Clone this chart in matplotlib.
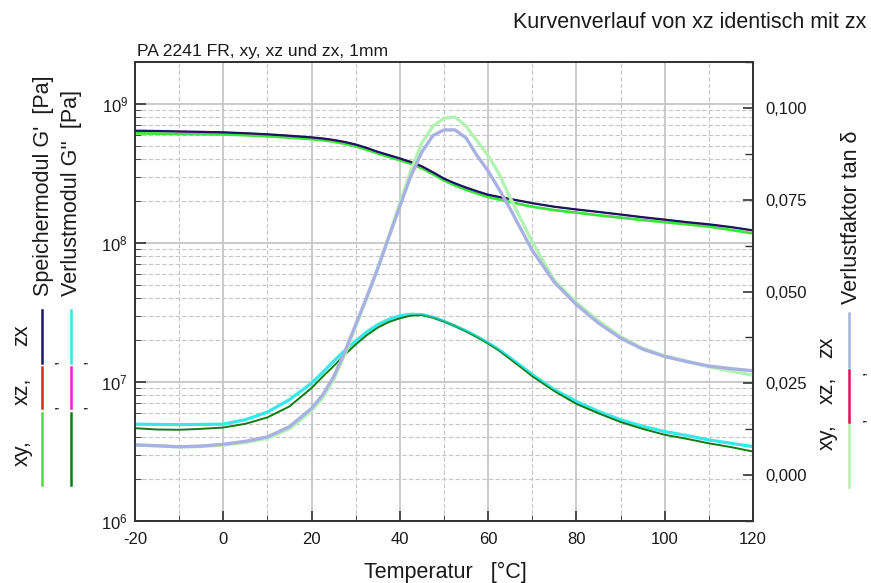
import matplotlib
matplotlib.use("Agg")
import matplotlib.pyplot as plt
from matplotlib.ticker import MultipleLocator, LogLocator, FixedLocator, FuncFormatter, NullFormatter
from matplotlib.lines import Line2D

plt.rcParams['font.family'] = ['Liberation Sans', 'DejaVu Sans']
plt.rcParams['mathtext.fontset'] = 'custom'
plt.rcParams['mathtext.rm'] = 'Liberation Sans'
plt.rcParams['mathtext.it'] = 'Liberation Sans:italic'
plt.rcParams['mathtext.bf'] = 'Liberation Sans:bold'
plt.rcParams['axes.unicode_minus'] = False

# ---------------- data ----------------
temperature = [-20, -15, -10, -5, 0, 5, 10, 15, 20,
               22.5, 25, 27.5, 30, 32.5, 35, 37.5, 40, 42.5, 45, 47.5, 50,
               52.5, 55, 57.5, 60, 62.5, 65, 67.5, 70,
               75, 80, 85, 90, 95, 100, 105, 110, 115, 120]

# Speichermodul G' [Pa]
g1_zx = [6.41e8, 6.38e8, 6.33e8, 6.29e8, 6.24e8, 6.15e8, 6.04e8, 5.90e8, 5.74e8,
         5.64e8, 5.50e8, 5.32e8, 5.10e8, 4.82e8, 4.52e8, 4.28e8, 4.05e8, 3.82e8, 3.55e8, 3.22e8, 2.90e8,
         2.68e8, 2.50e8, 2.35e8, 2.22e8, 2.14e8, 2.07e8, 2.00e8, 1.93e8,
         1.82e8, 1.74e8, 1.67e8, 1.60e8, 1.53e8, 1.47e8, 1.41e8, 1.36e8, 1.30e8, 1.23e8]
g1_xz = list(g1_zx)  # "Kurvenverlauf von xz identisch mit zx"
g1_xy = [6.14e8, 6.11e8, 6.08e8, 6.05e8, 6.03e8, 5.95e8, 5.85e8, 5.72e8, 5.58e8,
         5.48e8, 5.35e8, 5.17e8, 4.94e8, 4.68e8, 4.40e8, 4.16e8, 3.93e8, 3.71e8, 3.44e8, 3.12e8, 2.81e8,
         2.59e8, 2.41e8, 2.27e8, 2.14e8, 2.05e8, 1.97e8, 1.89e8, 1.82e8,
         1.72e8, 1.65e8, 1.58e8, 1.52e8, 1.46e8, 1.41e8, 1.36e8, 1.31e8, 1.24e8, 1.17e8]

# Verlustmodul G'' [Pa]
g2_zx = [4.97e6, 4.95e6, 4.93e6, 4.95e6, 4.97e6, 5.35e6, 6.07e6, 7.46e6, 9.8e6,
         1.17e7, 1.41e7, 1.68e7, 1.97e7, 2.29e7, 2.58e7, 2.82e7, 2.99e7, 3.07e7, 3.05e7, 2.92e7, 2.73e7,
         2.53e7, 2.33e7, 2.12e7, 1.91e7, 1.70e7, 1.49e7, 1.30e7, 1.13e7,
         8.8e6, 7.24e6, 6.14e6, 5.35e6, 4.80e6, 4.40e6, 4.12e6, 3.83e6, 3.62e6, 3.43e6]
g2_xz = list(g2_zx)
g2_xy = [4.65e6, 4.55e6, 4.53e6, 4.60e6, 4.70e6, 5.00e6, 5.56e6, 6.67e6, 9.05e6,
         1.09e7, 1.30e7, 1.57e7, 1.86e7, 2.17e7, 2.46e7, 2.70e7, 2.87e7, 3.00e7, 3.03e7, 2.90e7, 2.72e7,
         2.52e7, 2.31e7, 2.10e7, 1.89e7, 1.68e7, 1.46e7, 1.27e7, 1.10e7,
         8.6e6, 6.95e6, 5.95e6, 5.15e6, 4.60e6, 4.17e6, 3.90e6, 3.62e6, 3.40e6, 3.16e6]

# Verlustfaktor tan delta
td_zx = [0.0082, 0.0080, 0.0077, 0.0079, 0.0084, 0.0092, 0.0104, 0.0132, 0.0182,
         0.0218, 0.0268, 0.0335, 0.0410, 0.0485, 0.0563, 0.0648, 0.0732, 0.0815, 0.0880, 0.0925, 0.0940,
         0.0940, 0.0918, 0.0870, 0.0828, 0.0778, 0.0725, 0.0668, 0.0612,
         0.0525, 0.0464, 0.0414, 0.0373, 0.0343, 0.0323, 0.0309, 0.0297, 0.0290, 0.0284]
td_xz = list(td_zx)
td_xy = [0.0082, 0.0080, 0.0077, 0.0078, 0.0082, 0.0089, 0.0100, 0.0126, 0.0175,
         0.0210, 0.0260, 0.0328, 0.0405, 0.0482, 0.0563, 0.0650, 0.0740, 0.0830, 0.0905, 0.0950, 0.0972,
         0.0975, 0.0950, 0.0910, 0.0870, 0.0820, 0.0755, 0.0695, 0.0635,
         0.0530, 0.0470, 0.0420, 0.0377, 0.0345, 0.0325, 0.0310, 0.0295, 0.0283, 0.0272]

x_ticks = [-20, 0, 20, 40, 60, 80, 100, 120]
td_ticks = [0.0, 0.025, 0.05, 0.075, 0.1]

# ---------------- colours ----------------
C_G1_XY, C_G1_XZ, C_G1_ZX = '#3ee43e', '#e02424', '#1c1462'
C_G2_XY, C_G2_XZ, C_G2_ZX = '#127a12', '#e024e0', '#36e8e8'
C_TD_XY, C_TD_XZ, C_TD_ZX = '#b4f2b4', '#e0145c', '#a9b1e2'
GRID = '#c6c6c6'
SPINE = '#333333'
TXT = '#1a1a1a'

W, H = 871, 583
fig = plt.figure(figsize=(W / 100, H / 100), dpi=100)


def fx(px):
    return px / W


def fy(py):
    return 1 - py / H


ax = fig.add_axes([fx(135), fy(521), (753 - 135) / W, (521 - 62) / H])
ax.set_yscale('log')
ax.set_xlim(-20, 120)
ax.set_ylim(1e6, 2e9)

ax.set_axisbelow(True)
ax.xaxis.set_major_locator(FixedLocator(x_ticks))
ax.xaxis.set_minor_locator(MultipleLocator(10))
ax.yaxis.set_major_locator(LogLocator(base=10))
ax.yaxis.set_minor_locator(LogLocator(base=10, subs=range(2, 10)))
ax.yaxis.set_minor_formatter(NullFormatter())
ax.grid(which='major', color=GRID, lw=1.3, ls='-')
ax.grid(which='minor', color=GRID, lw=0.8, ls=(0, (4, 2)))

ax.tick_params(axis='both', which='major', direction='in', labelsize=12, colors=SPINE,
               labelcolor=TXT, width=1.2)
ax.tick_params(axis='x', which='major', length=7, pad=8, top=False)
ax.tick_params(axis='x', which='minor', direction='in', length=4, top=False, color=SPINE)
ax.tick_params(axis='y', which='major', length=8, pad=5, right=False)
ax.tick_params(axis='y', which='minor', direction='in', length=4, right=False, color=SPINE)

# G' curves (xz hidden under zx: identical)
ax.plot(temperature, g1_xy, color=C_G1_XY, lw=2.0, zorder=3)
ax.plot(temperature, g1_xz, color=C_G1_XZ, lw=1.0, zorder=3)
ax.plot(temperature, g1_zx, color=C_G1_ZX, lw=1.6, zorder=3)
# G'' curves
ax.plot(temperature, g2_xz, color=C_G2_XZ, lw=1.0, zorder=3)
ax.plot(temperature, g2_zx, color=C_G2_ZX, lw=2.3, zorder=3)
ax.plot(temperature, g2_xy, color=C_G2_XY, lw=1.4, zorder=3)
ax.plot(temperature, g2_zx, color=C_G2_ZX, lw=1.0, alpha=0.6, zorder=3)

# tan delta on right axis
ax2 = ax.twinx()
ax2.set_ylim(-0.0125, 0.1125)
ax2.plot(temperature, td_xy, color=C_TD_XY, lw=2.4)
ax2.plot(temperature, td_xz, color=C_TD_XZ, lw=1.0)
ax2.plot(temperature, td_zx, color=C_TD_ZX, lw=2.4)
ax2.yaxis.set_major_locator(FixedLocator(td_ticks))
ax2.yaxis.set_minor_locator(MultipleLocator(0.0125))
ax2.yaxis.set_major_formatter(FuncFormatter(lambda v, p: f"{v:.3f}".replace('.', ',')))
ax2.tick_params(axis='y', which='major', direction='in', length=7, pad=9, labelsize=12,
                colors=SPINE, labelcolor=TXT, width=1.2)
ax2.tick_params(axis='y', which='minor', direction='in', length=6, color=SPINE, width=1.0)

for a in (ax, ax2):
    for s in a.spines.values():
        s.set_color(SPINE)
        s.set_linewidth(1.3)

# ---------------- texts ----------------
fig.text(fx(866), fy(28), "Kurvenverlauf von xz identisch mit zx", ha='right', va='baseline',
         fontsize=15.5, color=TXT)
fig.text(fx(137), fy(56), "PA 2241 FR, xy, xz und zx, 1mm", ha='left', va='baseline',
         fontsize=12.6, color=TXT)
fig.text(fx(445), fy(578), "Temperatur   [°C]", ha='center', va='baseline', fontsize=15.5, color=TXT)

# left legend block
for label, yc in (("xy,", 453), ("xz,", 391), ("zx", 335)):
    fig.text(fx(22), fy(yc), label, rotation=90, ha='center', va='center', fontsize=15.5, color=TXT)


def seg(xp, y0, y1, color):
    fig.add_artist(Line2D([fx(xp), fx(xp)], [fy(y0), fy(y1)], color=color, lw=1.8,
                          transform=fig.transFigure))


for xp, cols in ((42, (C_G1_XY, C_G1_XZ, C_G1_ZX)), (71, (C_G2_XY, C_G2_XZ, C_G2_ZX))):
    seg(xp, 485, 413, cols[0])
    seg(xp, 408, 367, cols[1])
    seg(xp, 363, 310, cols[2])
    for yc in (407, 362):
        fig.text(fx(xp + 10), fy(yc), ",", rotation=90, ha='center', va='center', fontsize=12, color=TXT)

fig.text(fx(44), fy(296), "Speichermodul G'  [Pa]", rotation=90, ha='center', va='bottom',
         fontsize=15.5, color=TXT)
fig.text(fx(72), fy(296), "Verlustmodul G''  [Pa]", rotation=90, ha='center', va='bottom',
         fontsize=15.5, color=TXT)

# right legend block
for label, yc in (("xy,", 437), ("xz,", 390), ("zx", 347)):
    fig.text(fx(827), fy(yc), label, rotation=90, ha='center', va='center', fontsize=15.5, color=TXT)
seg(849, 487, 417, C_TD_XY)
seg(849, 422, 370, C_TD_XZ)
seg(849, 367, 313, C_TD_ZX)
for yc in (420, 373):
    fig.text(fx(860), fy(yc), ",", rotation=90, ha='center', va='center', fontsize=12, color=TXT)
fig.text(fx(851), fy(304), "Verlustfaktor tan δ", rotation=90, ha='center', va='bottom',
         fontsize=15.5, color=TXT)

fig.savefig("out.png", dpi=100)
